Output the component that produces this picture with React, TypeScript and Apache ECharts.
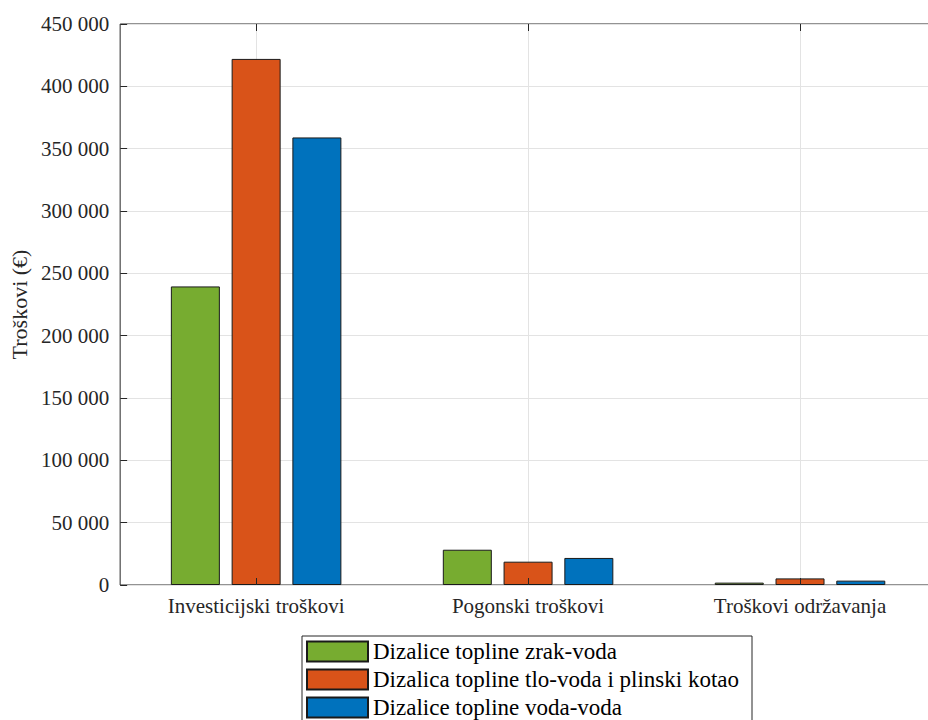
import React, { useEffect, useRef } from "react";
import * as echarts from "echarts";

const categories = ["Investicijski troškovi", "Pogonski troškovi", "Troškovi održavanja"];
const seriesNames = [
  "Dizalice topline zrak-voda",
  "Dizalica topline tlo-voda i plinski kotao",
  "Dizalice topline voda-voda",
];
const zrakVoda = [239500, 28300, 1900];
const tloVodaPlin = [422000, 18700, 5300];
const vodaVoda = [359000, 21700, 3500];
const seriesColors = ["#77AC30", "#D95319", "#0072BD"];
const yMin = 0;
const yMax = 450000;
const yStep = 50000;

const FONT = "'Liberation Serif', 'Times New Roman', serif";

function fmt(v: number): string {
  const s = String(Math.round(v));
  return s.replace(/\B(?=(\d{3})+(?!\d))/g, " ");
}

export default function App() {
  const ref = useRef<HTMLDivElement>(null);
  useEffect(() => {
    document.body.style.margin = "0";
    if (!ref.current) return;
    const chart = echarts.init(ref.current, undefined, { renderer: "svg" });
    const values = [zrakVoda, tloVodaPlin, vodaVoda];
    const option: any = {
      animation: false,
      backgroundColor: "#ffffff",
      textStyle: { fontFamily: FONT },
      grid: {
        left: 119,
        top: 24,
        width: 817,
        height: 561,
        show: true,
        borderColor: "#262626",
        borderWidth: 1,
        backgroundColor: "transparent",
      },
      legend: {
        data: seriesNames,
        orient: "horizontal",
        left: 302,
        top: 636,
        width: 440,
        padding: [4, 13, 6, 4],
        icon: "rect",
        itemWidth: 61,
        itemHeight: 20,
        itemGap: 5,
        align: "left",
        borderColor: "#262626",
        borderWidth: 1,
        backgroundColor: "#ffffff",
        textStyle: { fontFamily: FONT, fontSize: 23, color: "#000000" },
        selectedMode: false,
      },
      xAxis: [
        {
          type: "category",
          data: categories,
          position: "bottom",
          z: 10,
          axisLine: { show: false },
          axisTick: {
            show: true,
            inside: true,
            alignWithLabel: true,
            length: 7,
            lineStyle: { color: "#262626" },
          },
          axisLabel: {
            fontFamily: FONT,
            fontSize: 21,
            color: "#262626",
            margin: 10,
          },
          splitLine: { show: false },
        },
        {
          type: "category",
          data: categories,
          position: "top",
          z: 10,
          axisLine: { show: false },
          axisTick: {
            show: true,
            inside: true,
            alignWithLabel: true,
            length: 7,
            lineStyle: { color: "#262626" },
          },
          axisLabel: { show: false },
          splitLine: { show: false },
        },
      ],
      yAxis: {
        type: "value",
        min: yMin,
        max: yMax,
        interval: yStep,
        name: "Troškovi (€)",
        nameLocation: "middle",
        nameGap: 88,
        nameTextStyle: { fontFamily: FONT, fontSize: 22, color: "#262626" },
        axisLine: { show: false },
        axisTick: { show: true, inside: true, length: 7, lineStyle: { color: "#262626" } },
        axisLabel: {
          fontFamily: FONT,
          fontSize: 21,
          color: "#262626",
          margin: 11,
          formatter: (v: number) => fmt(v),
        },
        splitLine: { show: true, lineStyle: { color: "#e3e3e3", width: 1 } },
      },
      series: [
        {
          type: "line",
          name: "grid-x",
          data: [],
          z: 1,
          silent: true,
          markLine: {
            silent: true,
            z: 1,
            symbol: "none",
            label: { show: false },
            lineStyle: { color: "#e3e3e3", type: "solid", width: 1 },
            data: categories.map((c) => ({ xAxis: c })),
          },
        },
        ...seriesNames.map((n, i) => ({
          type: "bar",
          name: n,
          data: values[i],
          barWidth: 49,
          barGap: "24%",
          z: 3,
          itemStyle: {
            color: seriesColors[i],
            borderColor: "#1a1a1a",
            borderWidth: 1,
          },
        })),
      ],
    };
    chart.setOption(option);
    return () => chart.dispose();
  }, []);
  return (
    <div style={{ width: 928, height: 720, overflow: "hidden", position: "relative" }}>
      <div ref={ref} style={{ width: 940, height: 720 }} />
    </div>
  );
}
